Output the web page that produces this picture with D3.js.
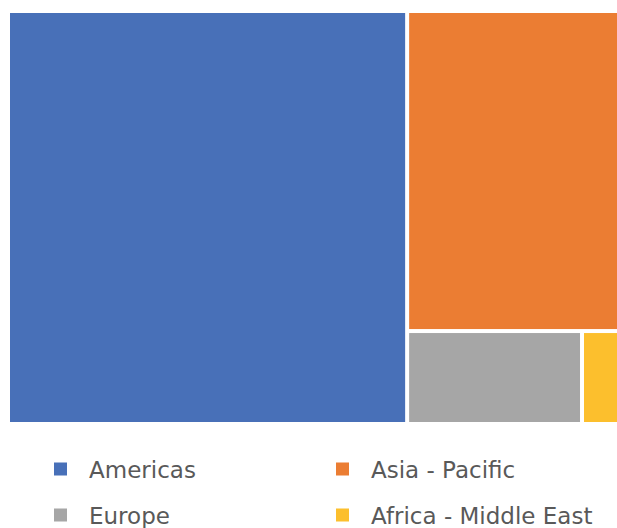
<!DOCTYPE html>
<html>
<head>
<meta charset="utf-8">
<script src="https://cdn.jsdelivr.net/npm/d3@7"></script>
<style>
  body { margin: 0; background: #fff; overflow: hidden; }
</style>
</head>
<body>
<div id="chart"></div>
<script>
var regions = ["Americas", "Asia - Pacific", "Europe", "Africa - Middle East"];
var values = [64.9, 27.2, 6.4, 1.5];
var colors = ["#4870B8", "#EB7D33", "#A6A6A6", "#FCBF2D"];

var width = 617, height = 528;
var box = {left: 10, top: 13, right: 621, bottom: 422};

var svg = d3.select("#chart").append("svg")
    .attr("width", width)
    .attr("height", height);

var root = d3.hierarchy({children: regions.map(function(r, i) { return {name: r, value: values[i]}; })})
    .sum(function(d) { return d.value || 0; });

d3.treemap()
    .tile(d3.treemapSquarify)
    .size([box.right - box.left, box.bottom - box.top])
    .paddingInner(4)
    .round(false)(root);

var color = d3.scaleOrdinal().domain(regions).range(colors);

svg.append("g")
    .attr("transform", "translate(" + box.left + "," + box.top + ")")
  .selectAll("rect")
  .data(root.leaves())
  .join("rect")
    .attr("x", function(d) { return d.x0; })
    .attr("y", function(d) { return d.y0; })
    .attr("width", function(d) { return d.x1 - d.x0; })
    .attr("height", function(d) { return d.y1 - d.y0; })
    .attr("fill", function(d) { return color(d.data.name); });

// legend, two columns
var legX = d3.scaleOrdinal().domain([0, 1]).range([54, 336]);
var legY = d3.scaleOrdinal().domain([0, 1]).range([469, 515]);

var leg = svg.append("g").selectAll("g")
  .data(regions)
  .join("g")
    .attr("transform", function(d, i) { return "translate(" + legX(i % 2) + "," + legY(Math.floor(i / 2)) + ")"; });

leg.append("rect")
    .attr("x", 0).attr("y", -6.5)
    .attr("width", 13).attr("height", 13)
    .attr("fill", function(d) { return color(d); });

leg.append("text")
    .attr("x", 35)
    .attr("y", 8.5)
    .attr("fill", "#595959")
    .style("font-family", "'DejaVu Sans', sans-serif")
    .style("font-size", "23px")
    .text(function(d) { return d; });
</script>
</body>
</html>
